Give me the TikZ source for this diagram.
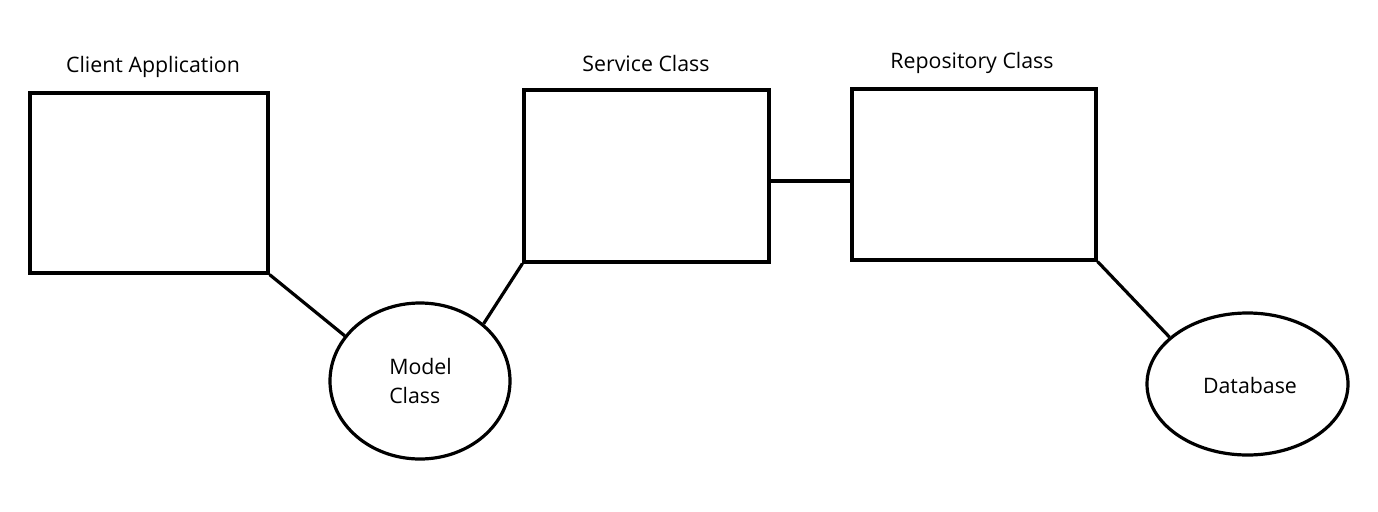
\documentclass[tikz,border=0pt]{standalone}
\usepackage{fontspec}
\setmainfont{Open Sans}
\usetikzlibrary{shapes.geometric}
\begin{document}
\begin{tikzpicture}[x=0.75pt,y=-0.75pt,
  every node/.style={font=\fontsize{16}{21.75}\selectfont},
  box/.style={draw,line width=2.4pt,rectangle,inner sep=0pt},
  oval/.style={draw,line width=2.4pt,ellipse,inner sep=0pt},
  link/.style={line width=2.4pt},
  lbl/.style={inner sep=0pt}]
\useasboundingbox[fill=white] (0,0) rectangle (1378,511);
\node[box,minimum width=238*0.75pt,minimum height=180*0.75pt] (client) at (149,183) {};
\node[box,minimum width=245*0.75pt,minimum height=172*0.75pt] (service) at (646.5,176) {};
\node[box,minimum width=244*0.75pt,minimum height=171*0.75pt] (repo) at (974,174.5) {};
\node[oval,minimum width=180*0.75pt,minimum height=156*0.75pt] (model) at (420,381) {};
\node[oval,minimum width=201*0.75pt,minimum height=142*0.75pt] (db) at (1247.5,384) {};
\node[lbl] (tclient) at (153,67) {Client Application};
\node[lbl] (tservice) at (646,63) {Service Class};
\node[lbl] (trepo) at (972,63) {Repository Class};
\node[lbl,align=left,anchor=west] (tmodel) at (389,381) {Model\\Class};
\node[lbl] (tdb) at (1250,385) {Database};
\coordinate (sr) at (0,181);
\draw[link] (client.south east) -- (model.149);
\draw[link] (model.42) -- (service.south west);
\draw[link] (service.east |- sr) -- (repo.west |- sr);
\draw[link] (repo.south east) -- (db.149);
\end{tikzpicture}
\end{document}
